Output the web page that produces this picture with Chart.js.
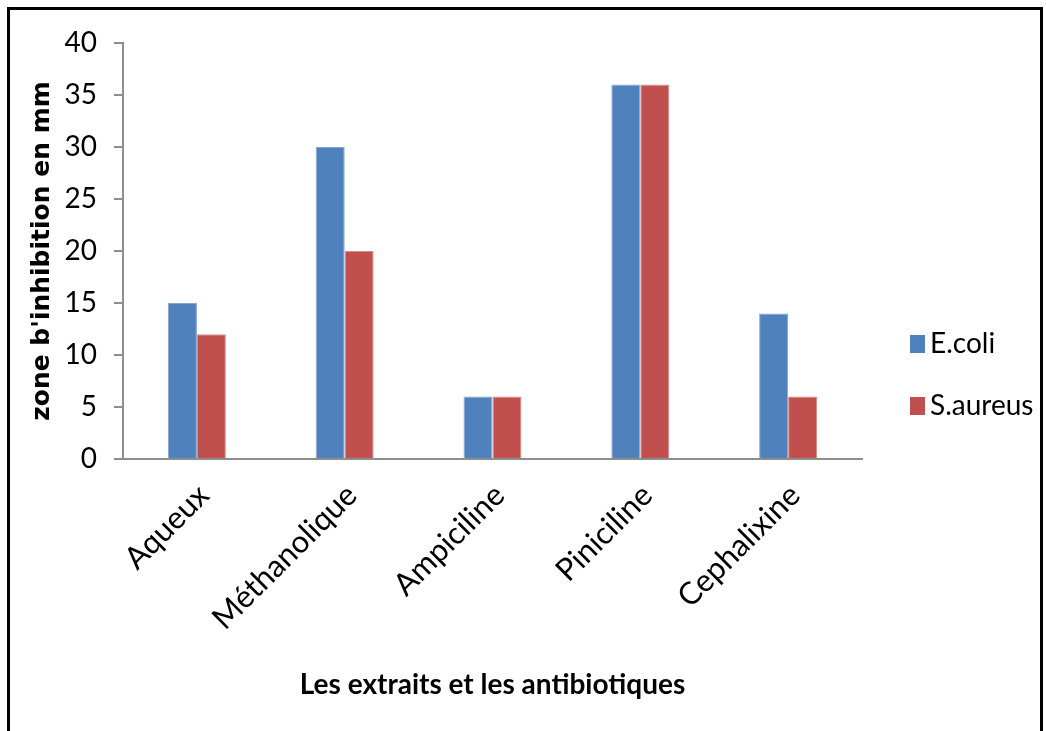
<!DOCTYPE html>
<html lang="fr">
<head>
<meta charset="utf-8">
<title>Zone d'inhibition</title>
<script src="https://cdn.jsdelivr.net/npm/chart.js@4.4.1/dist/chart.umd.min.js"></script>
<style>
  html, body { margin: 0; padding: 0; background: #ffffff; }
  #wrap { position: relative; width: 1046px; height: 731px; overflow: hidden; background: #ffffff; }
  #frame { position: absolute; left: 7px; top: 7px; width: 1030px; height: 760px; border: 3px solid #000; box-sizing: content-box; }
  #chart { position: absolute; left: 0; top: 0; }
</style>
</head>
<body>
<div id="wrap">
  <div id="frame"></div>
  <canvas id="chart" width="1046" height="731"></canvas>
</div>
<script>
// Extracts and antibiotics tested
const categories = ['Aqueux', 'Méthanolique', 'Ampiciline', 'Piniciline', 'Cephalixine'];
// Inhibition zone diameters (mm)
const ecoli = [15, 30, 6, 36, 14];
const saureus = [12, 20, 6, 36, 6];
const seriesNames = ['E.coli', 'S.aureus'];
const yTicks = [0, 5, 10, 15, 20, 25, 30, 35, 40];

const BLUE = '#4F81BD';
const RED = '#C0504D';
const AXIS = '#8E8E8E';
const LABEL_FONT = 'Lato, "Open Sans", sans-serif';

// Legend drawn to the right of the plot, entries taken from the datasets
const sideLegend = {
  id: 'sideLegend',
  afterDraw(chart) {
    const ctx = chart.ctx;
    const x = 910, y0 = 344, step = 62;
    ctx.save();
    ctx.font = '28px ' + LABEL_FONT;
    ctx.textBaseline = 'middle';
    ctx.textAlign = 'left';
    chart.data.datasets.forEach((ds, i) => {
      const cy = y0 + i * step;
      ctx.fillStyle = ds.backgroundColor;
      ctx.fillRect(x, cy - 9, 15, 18);
      ctx.fillStyle = '#000';
      ctx.fillText(ds.label, x + 20, cy);
    });
    ctx.restore();
  }
};

new Chart(document.getElementById('chart'), {
  type: 'bar',
  data: {
    labels: categories,
    datasets: [
      { label: seriesNames[0], data: ecoli, backgroundColor: BLUE, borderColor: '#86A6D2', borderWidth: 1, borderSkipped: 'bottom' },
      { label: seriesNames[1], data: saureus, backgroundColor: RED, borderColor: '#D98C8A', borderWidth: 1, borderSkipped: 'bottom' }
    ]
  },
  options: {
    responsive: false,
    animation: false,
    devicePixelRatio: 1,
    layout: { padding: { top: 43, left: 12, right: 184, bottom: 0 } },
    datasets: { bar: { categoryPercentage: 0.392, barPercentage: 1.0 } },
    plugins: {
      legend: { display: false },
      tooltip: { enabled: false }
    },
    scales: {
      x: {
        grid: { display: false },
        border: { display: true, color: AXIS, width: 2 },
        ticks: {
          color: '#000',
          font: { family: LABEL_FONT, size: 31 },
          minRotation: 45,
          maxRotation: 45,
          padding: 10,
          labelOffset: 7
        },
        title: {
          display: true,
          text: 'Les extraits et les antibiotiques',
          color: '#000',
          font: { family: LABEL_FONT, size: 28, weight: 'bold' },
          padding: { top: 0, bottom: 29 }
        },
        afterFit(scale) { scale.height = 272; }
      },
      y: {
        min: 0,
        max: 40,
        afterBuildTicks(scale) { scale.ticks = yTicks.map(v => ({ value: v })); },
        grid: { drawOnChartArea: false, drawTicks: true, tickLength: 9, color: AXIS, lineWidth: 2 },
        border: { display: true, color: AXIS, width: 2 },
        ticks: {
          color: '#000',
          font: { family: LABEL_FONT, size: 28 },
          padding: 17
        },
        title: {
          display: true,
          text: "zone b'inhibition en mm",
          color: '#000',
          font: { family: '"DejaVu Sans", Verdana, sans-serif', size: 25, weight: 'bold' },
          padding: { top: 15, bottom: 8 }
        },
        afterFit(scale) { scale.width = 111; }
      }
    }
  },
  plugins: [sideLegend]
});
</script>
</body>
</html>
